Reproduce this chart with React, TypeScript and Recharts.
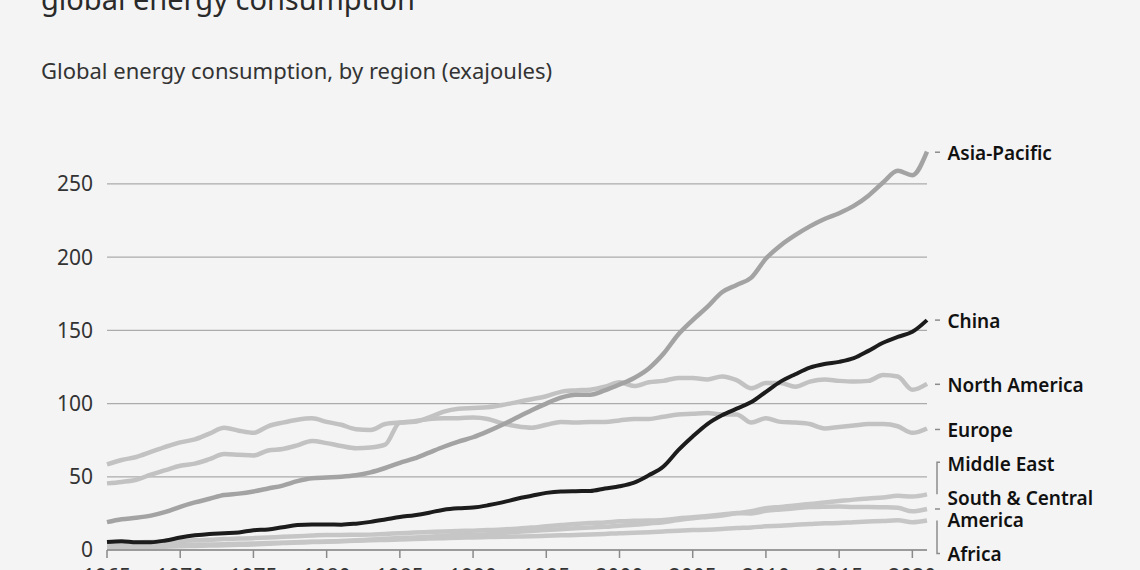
import React from 'react';
import { LineChart, Line, XAxis, YAxis, CartesianGrid } from 'recharts';

// 1965 ... 2021, exajoules
const years = Array.from({ length: 57 }, (_, i) => 1965 + i);

const asiaPacific = [
  19, 21, 22, 23.5, 26, 29.5, 32.5, 35, 37.5, 38.5,
  40, 42, 44, 47, 49, 49.5, 50, 51, 53, 56,
  59.5, 62.5, 66.5, 70.5, 74, 77, 81, 85.5, 90.5, 95.5,
  100, 104, 106, 106, 109, 113, 117.5, 124, 134, 147,
  157, 166, 176, 181, 186, 199, 208, 215, 221, 226,
  230, 235, 242, 251, 259, 256, 272,
];
const china = [
  5.5, 6, 5.3, 5.3, 6.5, 8.5, 10, 11, 11.5, 12,
  13.5, 14, 15.5, 17, 17.5, 17.5, 17.3, 18, 19.2, 20.8,
  22.5, 23.8, 25.5, 27.5, 28.5, 29, 30.5, 32.5, 35, 37,
  39, 40, 40.2, 40.3, 42, 43.5, 46, 51, 57, 68,
  77.5, 86, 92, 96.5, 101, 108, 115, 120, 124.5, 127,
  128.5, 131, 136, 141.5, 145.5, 149, 157,
];
const northAmerica = [
  58.5, 61.5, 63.5, 67, 70.5, 73.5, 75.5, 79.5, 83.5, 81.5,
  80, 84.5, 87, 89, 90, 87.5, 85.5, 82.5, 82, 86,
  87, 87.5, 90.5, 94.5, 96.5, 97, 97.5, 99, 101, 103,
  105, 108, 109, 109.5, 111.5, 114.5, 112, 114.5, 115.5, 117.5,
  117.5, 116.5, 118.5, 116, 110.5, 114, 114, 111.5, 115, 116.5,
  115.5, 115, 115.5, 119.5, 118.5, 109.5, 113.5,
];
const europe = [
  45.5, 46.5, 48, 51.5, 54.5, 57.5, 59, 62, 65.5, 65,
  64.5, 68, 69, 71.5, 74.5, 73, 71, 69.5, 70, 72,
  87, 88, 89.5, 90, 90, 90.5, 89.5, 86.5, 84.5, 83.5,
  85.5, 87.5, 87, 87.5, 87.5, 88.5, 89.5, 89.5, 91, 92.5,
  93, 93.5, 92.5, 92.5, 87, 90, 87.5, 87, 86, 83,
  84, 85, 86, 86, 84.5, 80, 83,
];
const middleEast = [
  1.6, 1.8, 1.9, 2.1, 2.3, 2.5, 2.8, 3.0, 3.3, 3.5,
  3.8, 4.3, 4.8, 5.1, 5.4, 5.6, 6.0, 6.6, 7.1, 7.7,
  8.2, 8.6, 9.1, 9.7, 10.2, 10.5, 10.8, 11.6, 12.3, 13.0,
  13.6, 14.2, 14.8, 15.3, 15.8, 16.6, 17.2, 18.1, 19.0, 20.4,
  21.6, 22.6, 23.6, 25.2, 26.4, 28.6, 29.4, 30.4, 31.5, 32.4,
  33.4, 34.4, 35.2, 35.8, 37.0, 36.5, 38.0,
];
const southCentralAmerica = [
  4.8, 5.0, 5.2, 5.5, 5.8, 6.2, 6.6, 7.0, 7.5, 7.8,
  8.1, 8.5, 9.0, 9.4, 9.9, 10.3, 10.3, 10.4, 10.5, 11.0,
  11.4, 11.9, 12.3, 12.7, 13.0, 13.2, 13.6, 14.0, 14.6, 15.3,
  16.2, 17.0, 17.8, 18.4, 18.8, 19.6, 19.9, 20.1, 20.5, 21.5,
  22.3, 23.2, 24.2, 25.1, 25.0, 26.8, 27.7, 28.5, 29.3, 29.6,
  29.7, 29.4, 29.4, 29.2, 28.8, 26.4, 28.0,
];
const africa = [
  2.5, 2.6, 2.7, 2.9, 3.1, 3.4, 3.6, 3.8, 4.0, 4.2,
  4.4, 4.7, 5.0, 5.3, 5.6, 5.8, 6.1, 6.4, 6.6, 6.9,
  7.2, 7.5, 7.8, 8.1, 8.4, 8.6, 8.8, 9.0, 9.2, 9.4,
  9.7, 10.0, 10.3, 10.6, 11.0, 11.5, 11.8, 12.2, 12.7, 13.2,
  13.6, 13.9, 14.4, 15.0, 15.4, 16.2, 16.5, 17.2, 17.7, 18.2,
  18.5, 19.0, 19.4, 19.8, 20.3, 19.0, 20.2,
];

const xTicks = [1965, 1970, 1975, 1980, 1985, 1990, 1995, 2000, 2005, 2010, 2015, 2020];
const yTicks = [0, 50, 100, 150, 200, 250];

const data = years.map((year, i) => ({
  year,
  asiaPacific: asiaPacific[i],
  china: china[i],
  northAmerica: northAmerica[i],
  europe: europe[i],
  middleEast: middleEast[i],
  southCentralAmerica: southCentralAmerica[i],
  africa: africa[i],
}));

const FONT = '"Noto Sans", sans-serif';
const MARK = '#8c8c8c';

// end-of-line label: kind decides the little connector next to the text
function endLabel(lines: string[], dy: number, kind: 'dash' | 'bracketUp' | 'bracketDown' | 'split') {
  return (props: any) => {
    const { x, y, index } = props;
    if (index !== years.length - 1 || x == null || y == null) return null;
    const ly = y + dy;
    const tx = x + 20.5;
    let mark: React.ReactNode = null;
    if (kind === 'dash' || kind === 'split') {
      mark = <line x1={x + 8} x2={x + 13} y1={ly} y2={ly} stroke={MARK} strokeWidth={1.5} />;
    } else if (kind === 'bracketUp') {
      mark = <path d={`M${x + 13},${ly} H${x + 10} V${y}`} fill="none" stroke={MARK} strokeWidth={1.5} />;
    } else {
      mark = <path d={`M${x + 10},${y} V${ly} H${x + 13}`} fill="none" stroke={MARK} strokeWidth={1.5} />;
    }
    const texts = kind === 'split'
      ? [<text key="a" x={tx} y={ly - 11} dominantBaseline="central" fontSize={19} fontWeight={600} fill="#111" fontFamily={FONT}>{lines[0]}</text>,
         <text key="b" x={tx} y={ly + 10.5} dominantBaseline="central" fontSize={19} fontWeight={600} fill="#111" fontFamily={FONT}>{lines[1]}</text>]
      : [<text key="a" x={tx} y={kind === 'bracketUp' ? ly + 1.5 : ly + 1} dominantBaseline="central" fontSize={19} fontWeight={600} fill="#111" fontFamily={FONT}>{lines[0]}</text>];
    return <g>{mark}{texts}</g>;
  };
}

export default function App() {
  return (
    <div style={{ position: 'fixed', left: 0, top: 0, width: 1140, height: 570, background: '#f4f4f4', overflow: 'hidden', fontFamily: FONT, color: '#333' }}>
      <div style={{ position: 'absolute', left: 41, top: -21, fontSize: 29, whiteSpace: 'nowrap', color: '#2a2a2a' }}>global energy consumption</div>
      <div style={{ position: 'absolute', left: 41, top: 55, fontSize: 22, whiteSpace: 'nowrap', color: '#333' }}>Global energy consumption, by region (exajoules)</div>
      <div style={{ position: 'absolute', left: 0, top: 0 }}>
        <LineChart width={1140} height={570} data={data} margin={{ top: 140, right: 213, bottom: 0, left: 0 }}>
          <CartesianGrid vertical={false} horizontalValues={yTicks} stroke="#ababab" strokeWidth={1.2} />
          <XAxis
            dataKey="year"
            type="number"
            domain={[1965, 2021]}
            ticks={xTicks}
            interval={0}
            height={20}
            tickSize={8}
            tickMargin={11}
            axisLine={{ stroke: '#8a8a8a', strokeWidth: 1.5 }}
            tickLine={{ stroke: '#8a8a8a', strokeWidth: 1.5 }}
            tick={{ fontSize: 21, fill: '#333', fontFamily: FONT }}
          />
          <YAxis
            type="number"
            domain={[0, 280]}
            ticks={yTicks}
            interval={0}
            width={107}
            axisLine={false}
            tickLine={false}
            tickSize={0}
            tickMargin={14}
            tick={{ fontSize: 21, fill: '#333', fontFamily: FONT }}
          />
          <Line dataKey="africa" type="monotone" stroke="#c6c6c6" strokeWidth={4.5} dot={false} activeDot={false} isAnimationActive={false} label={endLabel(['Africa'], 33, 'bracketDown')} />
          <Line dataKey="southCentralAmerica" type="monotone" stroke="#c6c6c6" strokeWidth={4.5} dot={false} activeDot={false} isAnimationActive={false} label={endLabel(['South & Central', 'America'], 0, 'split')} />
          <Line dataKey="middleEast" type="monotone" stroke="#c6c6c6" strokeWidth={4.5} dot={false} activeDot={false} isAnimationActive={false} label={endLabel(['Middle East'], -32, 'bracketUp')} />
          <Line dataKey="europe" type="monotone" stroke="#c2c2c2" strokeWidth={4.5} dot={false} activeDot={false} isAnimationActive={false} label={endLabel(['Europe'], 1, 'dash')} />
          <Line dataKey="northAmerica" type="monotone" stroke="#c2c2c2" strokeWidth={4.5} dot={false} activeDot={false} isAnimationActive={false} label={endLabel(['North America'], 0.5, 'dash')} />
          <Line dataKey="asiaPacific" type="monotone" stroke="#a3a3a3" strokeWidth={4.5} dot={false} activeDot={false} isAnimationActive={false} label={endLabel(['Asia-Pacific'], 0.5, 'dash')} />
          <Line dataKey="china" type="monotone" stroke="#1c1c1c" strokeWidth={4} dot={false} activeDot={false} isAnimationActive={false} label={endLabel(['China'], 0, 'dash')} />
        </LineChart>
      </div>
    </div>
  );
}
